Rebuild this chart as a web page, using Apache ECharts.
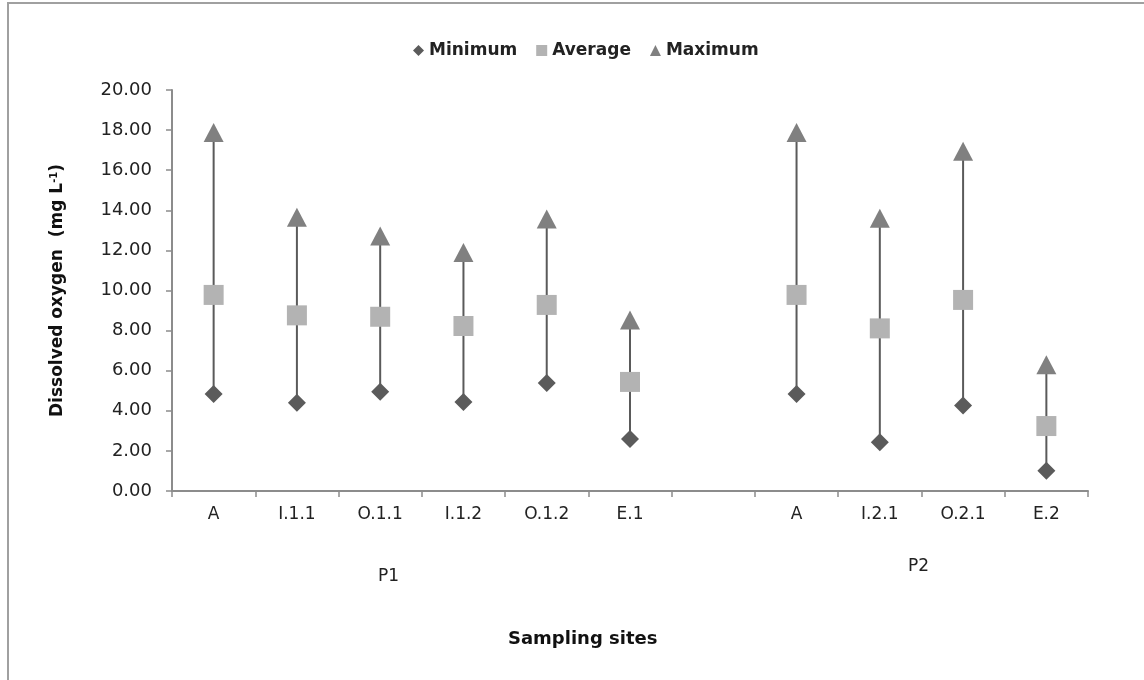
<!DOCTYPE html>
<html>
<head>
<meta charset="utf-8">
<script src="https://cdn.jsdelivr.net/npm/echarts@6/dist/echarts.min.js"></script>
<style>html,body{margin:0;padding:0;background:#fff;}#main{width:1144px;height:680px;}</style>
</head>
<body>
<div id="main"></div>
<script>
// Sampling sites (blank slot separates the P1 and P2 groups)
var sites = ['A', 'I.1.1', 'O.1.1', 'I.1.2', 'O.1.2', 'E.1', '', 'A', 'I.2.1', 'O.2.1', 'E.2'];
// Dissolved oxygen (mg L-1)
var minimumDO = [4.84, 4.40, 4.95, 4.44, 5.39, 2.59, null, 4.84, 2.43, 4.26, 1.01];
var averageDO = [9.78, 8.76, 8.69, 8.23, 9.28, 5.44, null, 9.78, 8.11, 9.53, 3.24];
var maximumDO = [17.88, 13.65, 12.72, 11.90, 13.57, 8.53, null, 17.88, 13.60, 16.94, 6.30];
var yTicks = {min: 0, max: 20, step: 2};
var groupLabels = ['P1', 'P2'];
var xTitle = 'Sampling sites';

var FONT = 'DejaVu Sans';
function toSeries(arr) { return arr.map(function (v) { return v == null ? '-' : v; }); }
var rangeData = [];
for (var i = 0; i < sites.length; i++) {
  if (minimumDO[i] != null) rangeData.push([i, minimumDO[i], maximumDO[i]]);
}

var chart = echarts.init(document.getElementById('main'), null, {renderer: 'canvas'});
chart.setOption({
  backgroundColor: '#ffffff',
  animation: false,
  legend: {
    top: 37,
    left: 408,
    itemWidth: 11,
    itemHeight: 11,
    itemGap: 19,
    itemStyle: {opacity: 1},
    textStyle: {fontFamily: FONT, fontSize: 17, fontWeight: 'bold', color: '#222'},
    data: [
      {name: 'Minimum', icon: 'diamond'},
      {name: 'Average', icon: 'rect'},
      {name: 'Maximum', icon: 'triangle'}
    ]
  },
  grid: {left: 172, right: 56, top: 90, bottom: 189, containLabel: false},
  xAxis: {
    type: 'category',
    data: sites,
    boundaryGap: true,
    axisLine: {show: true, lineStyle: {color: '#8c8c8c', width: 2}},
    axisTick: {show: true, interval: 0, length: 6, lineStyle: {color: '#8c8c8c', width: 1.5}},
    axisLabel: {interval: 0, margin: 15, fontFamily: FONT, fontSize: 17, color: '#222'}
  },
  yAxis: {
    type: 'value',
    min: yTicks.min,
    max: yTicks.max,
    interval: yTicks.step,
    axisLine: {show: true, lineStyle: {color: '#8c8c8c', width: 2}},
    axisTick: {show: true, length: 6, lineStyle: {color: '#8c8c8c', width: 1.5}},
    splitLine: {show: false},
    axisLabel: {margin: 20, fontFamily: FONT, fontSize: 18, color: '#222',
      formatter: function (v) { return v.toFixed(2); }},
    name: 'Dissolved oxygen  (mg L{sup|-1})',
    nameLocation: 'middle',
    nameGap: 106,
    nameTextStyle: {fontFamily: FONT, fontSize: 17, fontWeight: 'bold', color: '#111',
      rich: {sup: {fontFamily: FONT, fontSize: 10, fontWeight: 'bold', color: '#111', verticalAlign: 'top', lineHeight: 10, padding: [0, 0, 8, 0]}}}
  },
  graphic: [
    {type: 'rect', silent: true, shape: {x: 8, y: 3, width: 2000, height: 2000},
      style: {fill: 'none', stroke: '#a0a0a0', lineWidth: 2}},
    {type: 'text', left: 378, top: 568, style: {text: groupLabels[0], font: '17px "DejaVu Sans"', fill: '#222'}},
    {type: 'text', left: 908, top: 558, style: {text: groupLabels[1], font: '17px "DejaVu Sans"', fill: '#222'}},
    {type: 'text', left: 508, top: 630, style: {text: xTitle, font: 'bold 18px "DejaVu Sans"', fill: '#111'}}
  ],
  series: [
    {
      type: 'custom',
      name: 'range',
      data: rangeData,
      encode: {x: 0, y: [1, 2]},
      z: 1,
      renderItem: function (params, api) {
        var lo = api.coord([api.value(0), api.value(1)]);
        var hi = api.coord([api.value(0), api.value(2)]);
        return {type: 'line', shape: {x1: lo[0], y1: lo[1], x2: hi[0], y2: hi[1]},
          style: {stroke: '#5a5a5a', lineWidth: 2}};
      }
    },
    {name: 'Minimum', type: 'scatter', data: toSeries(minimumDO), symbol: 'diamond', symbolSize: [18, 18],
      itemStyle: {color: '#5b5b5b', opacity: 1}, z: 3},
    {name: 'Average', type: 'scatter', data: toSeries(averageDO), symbol: 'rect', symbolSize: [20, 20],
      itemStyle: {color: '#b3b3b3', opacity: 1}, z: 3},
    {name: 'Maximum', type: 'scatter', data: toSeries(maximumDO), symbol: 'triangle', symbolSize: [20, 19],
      itemStyle: {color: '#808080', opacity: 1}, z: 3}
  ]
});
</script>
</body>
</html>
